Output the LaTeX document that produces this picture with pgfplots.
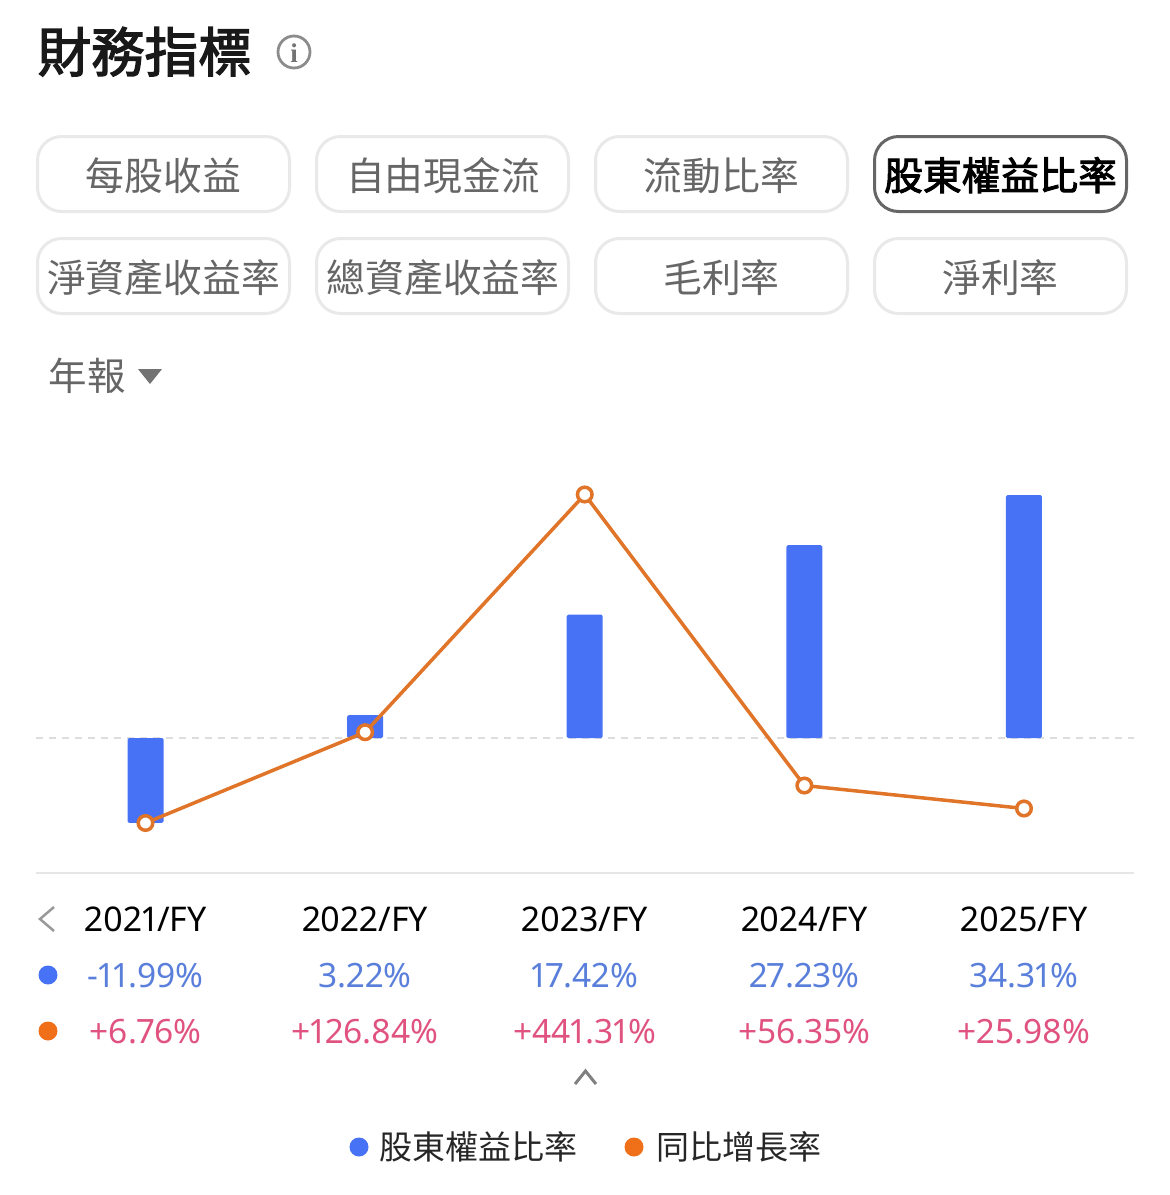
\documentclass[border=0pt]{standalone}
\usepackage{pgfplots}
\pgfplotsset{compat=1.18}
\usepackage{fontspec}
\setmainfont[Numbers=Proportional]{Noto Sans}
\newfontfamily\cjk{Noto Sans CJK TC}
\newfontfamily\cjkb[FakeBold=2.5]{Noto Sans CJK TC}
\newfontfamily\iconserif{Liberation Serif}
\definecolor{barblue}{HTML}{4872F6}
\definecolor{lineorange}{HTML}{E07428}
\definecolor{dotorange}{HTML}{F0701A}
\definecolor{valblue}{HTML}{5A7FDB}
\definecolor{valpink}{HTML}{E0527F}
\definecolor{chipline}{HTML}{E9E9E9}
\definecolor{chiptext}{HTML}{666666}
\definecolor{activeline}{HTML}{666666}
\definecolor{zeroline}{HTML}{DDDDDD}
\definecolor{baseline}{HTML}{E6E6E6}
\newcommand{\fs}[1]{\fontsize{#1}{#1}\selectfont}
\pgfplotstableread{
x v
0 -11.99
1 3.22
2 17.42
3 27.23
4 34.31
}\ratio
\pgfplotstableread{
x v
0 6.76
1 126.84
2 441.31
3 56.35
4 25.98
}\growth
\begin{document}
\begin{tikzpicture}[x=1pt,y=-1pt,
  chip/.style={draw=chipline,line width=3pt,rounded corners=24pt,fill=white},
  chipt/.style={anchor=base,text=chiptext,inner sep=0pt,font=\cjk\fs{38.8}},
  vb/.style={anchor=base,inner sep=0pt,text=valblue,font=\fs{33.5}},
  vp/.style={anchor=base,inner sep=0pt,text=valpink,font=\fs{33.5}}]
\path[use as bounding box] (0,0) rectangle (1170,1195);
\node[anchor=base west,inner sep=0pt,text=black!90,font=\cjkb\fs{53.5}] at (37.5,72) {財務指標};
\draw[color=black!45,line width=2.8pt] (294,52) circle (16);
\node[anchor=base,inner sep=0pt,text=black!55,font=\iconserif\bfseries\fs{27}] at (294,62) {i};
% chips
\foreach \cx/\cy in {37.5/136.5,316.5/136.5,595.5/136.5,37.5/238.5,316.5/238.5,595.5/238.5,874.5/238.5}
  \draw[chip] (\cx,\cy) rectangle ++(252,75);
\draw[chip,draw=activeline] (874.5,136.5) rectangle ++(252,75);
\node[chipt] at (163.5,190) {每股收益};
\node[chipt] at (443,190) {自由現金流};
\node[chipt] at (721.5,190) {流動比率};
\node[chipt,text=black,font=\cjkb\fs{38.8}] at (1000.5,190) {股東權益比率};
\node[chipt] at (163.5,292) {淨資產收益率};
\node[chipt] at (443,292) {總資產收益率};
\node[chipt] at (721.5,292) {毛利率};
\node[chipt] at (1000.5,292) {淨利率};
\node[anchor=base west,inner sep=0pt,text=chiptext,font=\cjk\fs{38.5}] at (48.5,390) {年報};
\fill[color=black!55] (138,369) -- (162,369) -- (150,384) -- cycle;
% chart: axes in the page's own pixel frame
\begin{axis}[at={(36pt,-873pt)},anchor=south west,width=1098pt,height=433pt,scale only axis,
  xmin=-0.4986,xmax=4.501,ymin=-19.07,ymax=42.09,
  axis y line=none,axis x line=bottom,axis line style={color=baseline,line width=2pt,-},
  xtick={0,1,2,3,4},major tick length=0pt,
  xticklabels={2021/FY,2022/FY,2023/FY,2024/FY,2025/FY},
  xticklabel style={font=\fs{34},text=black,inner sep=0pt,yshift=-58pt,anchor=base},
  clip=false]
\addplot[color=zeroline,line width=1.5pt,dash pattern=on 7pt off 6pt] coordinates {(-0.4986,0)(4.501,0)};
\addplot[ybar,bar width=36pt,fill=barblue,draw=none,rounded corners=1.5pt] table[x=x,y=v] {\ratio};
\end{axis}
\begin{axis}[at={(36pt,-873pt)},anchor=south west,width=1098pt,height=433pt,scale only axis,
  xmin=-0.4986,xmax=4.501,ymin=-59.38,ymax=513.4,
  axis lines=none,clip=false]
\addplot[color=lineorange,line width=3.5pt,mark=*,mark size=7.3pt,
  mark options={fill=white,draw=lineorange,line width=3.5pt}] table[x=x,y=v] {\growth};
\end{axis}
% value rows
\draw[color=black!40,line width=2.5pt] (54,907) -- (40,919) -- (54,931);
\fill[color=barblue] (48,975) circle (9.5);
\fill[color=dotorange] (48,1031) circle (9.5);
\node[vb] at (145.5,987) {-11.99\%};
\node[vb] at (365,987) {3.22\%};
\node[vb] at (585,987) {17.42\%};
\node[vb] at (804.5,987) {27.23\%};
\node[vb] at (1024,987) {34.31\%};
\node[vp] at (145.5,1043) {+6.76\%};
\node[vp] at (365,1043) {+126.84\%};
\node[vp] at (585,1043) {+441.31\%};
\node[vp] at (804.5,1043) {+56.35\%};
\node[vp] at (1024,1043) {+25.98\%};
\draw[color=black!50,line width=3pt] (575,1084) -- (585.5,1071) -- (596,1084);
% legend
\fill[color=barblue] (359,1147) circle (9.5);
\node[anchor=base west,inner sep=0pt,text=black!85,font=\cjk\fs{33}] at (379,1159) {股東權益比率};
\fill[color=dotorange] (634,1147) circle (9.5);
\node[anchor=base west,inner sep=0pt,text=black!85,font=\cjk\fs{33}] at (656,1159) {同比增長率};
\end{tikzpicture}
\end{document}
